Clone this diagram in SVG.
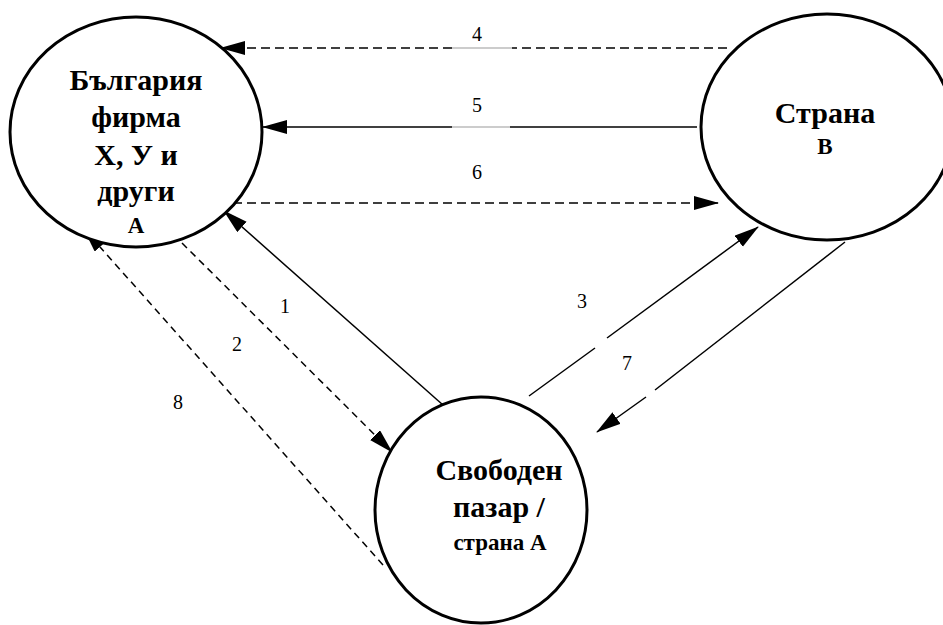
<svg xmlns="http://www.w3.org/2000/svg" width="943" height="625" viewBox="0 0 943 625">
<defs>
<marker id="ah" markerUnits="userSpaceOnUse" markerWidth="26" markerHeight="16" refX="24" refY="7" orient="auto">
<path d="M0,0 L25,7 L0,14 Z" fill="#000"/>
</marker>
</defs>
<rect width="943" height="625" fill="#fff"/>
<g id="connectors" stroke="#000" stroke-width="1.5" fill="none">
<line stroke-dasharray="9,5" x1="727" y1="48" x2="512" y2="48"/>
<line stroke="#999" stroke-width="1" x1="512" y1="48" x2="452" y2="48"/>
<line stroke-dasharray="9,5" x1="452" y1="48" x2="221" y2="48" marker-end="url(#ah)"/>
<line x1="697" y1="127" x2="510" y2="127"/>
<line stroke="#999" stroke-width="1" x1="510" y1="127" x2="452" y2="127"/>
<line x1="452" y1="127" x2="263" y2="127" marker-end="url(#ah)"/>
<line stroke-dasharray="9,5" x1="233" y1="203" x2="718" y2="203" marker-end="url(#ah)"/>
<line x1="443" y1="405" x2="224" y2="211" marker-end="url(#ah)"/>
<line stroke-dasharray="7,5" x1="182" y1="243" x2="392" y2="452" marker-end="url(#ah)"/>
<line stroke-dasharray="7,5" x1="383" y1="565" x2="84" y2="229" marker-end="url(#ah)"/>
<line x1="529" y1="396" x2="595" y2="348"/>
<line x1="607" y1="338" x2="758" y2="227" marker-end="url(#ah)"/>
<line x1="845" y1="242" x2="655" y2="390"/>
<line x1="646" y1="397" x2="597" y2="432" marker-end="url(#ah)"/>
</g>
<g id="labels">
<text x="477" y="41" font-family="Liberation Serif" font-size="20" text-anchor="middle">4</text>
<text x="477" y="112" font-family="Liberation Serif" font-size="20" text-anchor="middle">5</text>
<text x="477" y="179" font-family="Liberation Serif" font-size="20" text-anchor="middle">6</text>
<text x="285" y="313" font-family="Liberation Serif" font-size="20" text-anchor="middle">1</text>
<text x="237" y="351" font-family="Liberation Serif" font-size="20" text-anchor="middle">2</text>
<text x="178" y="409" font-family="Liberation Serif" font-size="20" text-anchor="middle">8</text>
<text x="582" y="308" font-family="Liberation Serif" font-size="20" text-anchor="middle">3</text>
<text x="627" y="370" font-family="Liberation Serif" font-size="20" text-anchor="middle">7</text>
</g>
<g id="nodeA">
<ellipse cx="136" cy="132" rx="126" ry="115" fill="#fff" stroke="#000" stroke-width="3"/>
<text x="136" y="90" font-family="Liberation Serif" font-size="30" font-weight="bold" text-anchor="middle">България</text>
<text x="136" y="127" font-family="Liberation Serif" font-size="30" font-weight="bold" text-anchor="middle">фирма</text>
<text x="136" y="165" font-family="Liberation Serif" font-size="30" font-weight="bold" text-anchor="middle">Х, У и</text>
<text x="136" y="201" font-family="Liberation Serif" font-size="30" font-weight="bold" text-anchor="middle">други</text>
<text x="136" y="233" font-family="Liberation Serif" font-size="23" font-weight="bold" text-anchor="middle">А</text>
</g>
<g id="nodeB">
<ellipse cx="827" cy="127" rx="126" ry="113" fill="#fff" stroke="#000" stroke-width="3"/>
<text x="825" y="123" font-family="Liberation Serif" font-size="30" font-weight="bold" text-anchor="middle">Страна</text>
<text x="825" y="154" font-family="Liberation Serif" font-size="23" font-weight="bold" text-anchor="middle">В</text>
</g>
<g id="nodeC">
<ellipse cx="481" cy="510" rx="106" ry="113" fill="#fff" stroke="#000" stroke-width="3"/>
<text x="499" y="480" font-family="Liberation Serif" font-size="30" font-weight="bold" text-anchor="middle">Свободен</text>
<text x="499" y="517" font-family="Liberation Serif" font-size="30" font-weight="bold" text-anchor="middle">пазар /</text>
<text x="500" y="550" font-family="Liberation Serif" font-size="23" font-weight="bold" text-anchor="middle">страна А</text>
</g>
</svg>
